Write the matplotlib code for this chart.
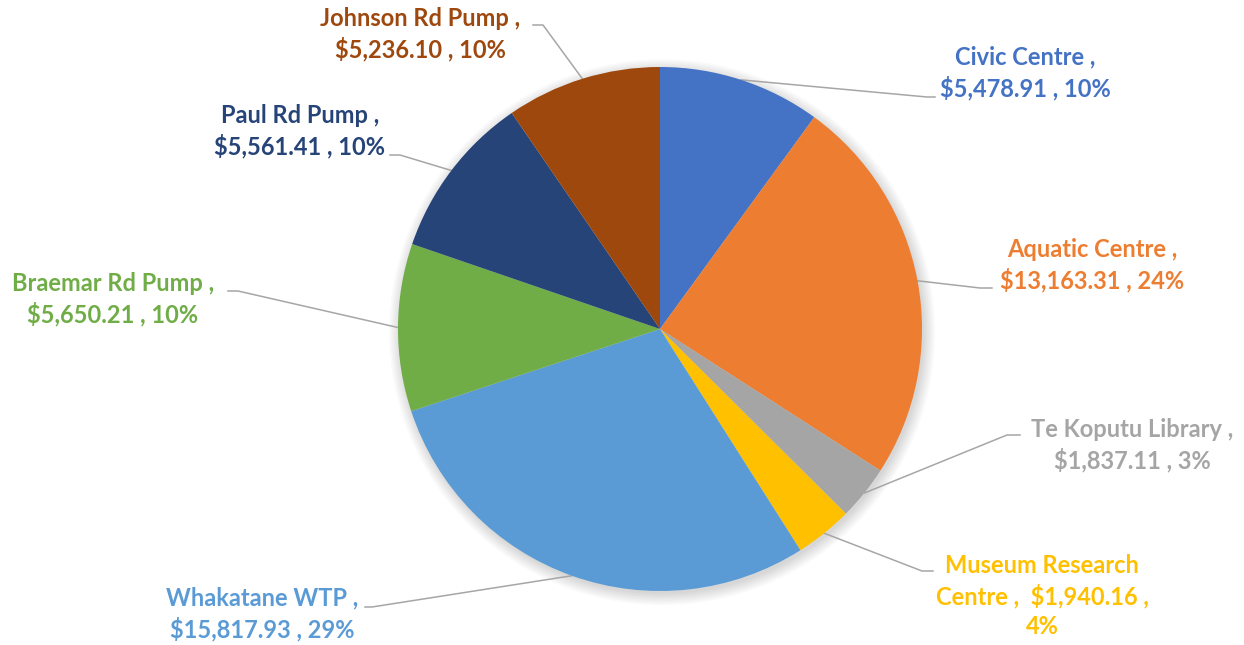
import numpy as np
import matplotlib.pyplot as plt
from matplotlib.patches import Circle

sites = ["Civic Centre", "Aquatic Centre", "Te Koputu Library", "Museum Research\nCentre", 
         "Whakatane WTP", "Braemar Rd Pump", "Paul Rd Pump", "Johnson Rd Pump"]
costs = [5478.91, 13163.31, 1837.11, 1940.16, 15817.93, 5650.21, 5561.41, 5236.10]
colours = ["#4472C4", "#ED7D31", "#A5A5A5", "#FFC000", "#5B9BD5", "#70AD47", "#264478", "#9E480E"]

# pie centre and radius in pixels of the 1244x645 picture
cx, cy, rad = 660, 329, 262

# label block centres and leader elbows (pixels)
label_pos = [(1025, 73), (1092, 265), (1132, 445), (1042, 596),
             (262, 614), (113, 299), (300, 131), (420, 34)]
elbows = [((927, 97), (935, 97)), ((980, 288), (992, 288)), ((1007, 435), (1020, 435)),
          ((922, 571), (933, 571)), ((372, 607), (365, 607)), ((238, 291), (228, 291)),
          ((400, 155), (390, 155)), ((543, 25), (533, 25))]


def px(p):
    return ((p[0] - cx) / rad, (cy - p[1]) / rad)


def main():
    fig = plt.figure(figsize=(12.44, 6.45), dpi=100)
    ax = fig.add_axes([0, 0, 1, 1])

    # soft shadow under the pie
    for k in range(8):
        ax.add_patch(Circle((0.008, -0.012), 1.0 + 0.006 * k, color="black",
                            alpha=0.018, lw=0, zorder=0))

    wedges, _ = ax.pie(costs, colors=colours, startangle=90, counterclock=False,
                       radius=1, wedgeprops=dict(linewidth=0))
    ax.set_xlim(-cx / rad, (1244 - cx) / rad)
    ax.set_ylim((cy - 645) / rad, cy / rad)
    ax.axis("off")

    total = sum(costs)
    for i, w in enumerate(wedges):
        mid = np.deg2rad((w.theta1 + w.theta2) / 2)
        edge = (np.cos(mid), np.sin(mid))
        b, e = px(elbows[i][0]), px(elbows[i][1])
        ax.plot([edge[0], b[0], e[0]], [edge[1], b[1], e[1]], color="#A6A6A6", lw=1.1, zorder=0.5)
        pct = round(costs[i] / total * 100)
        name = sites[i]
        if i == 3:
            txt = "Museum Research\nCentre ,  ${:,.2f} ,\n{}%".format(costs[i], pct)
        else:
            txt = "{} ,\n${:,.2f} , {}%".format(name, costs[i], pct)
        tx, ty = px(label_pos[i])
        ax.text(tx, ty, txt, ha="center", va="center", multialignment="center",
                color=colours[i], fontsize=17, fontweight="bold", family="Lato",
                linespacing=1.32)

    fig.savefig("out.png", dpi=100)


if __name__ == "__main__":
    main()
